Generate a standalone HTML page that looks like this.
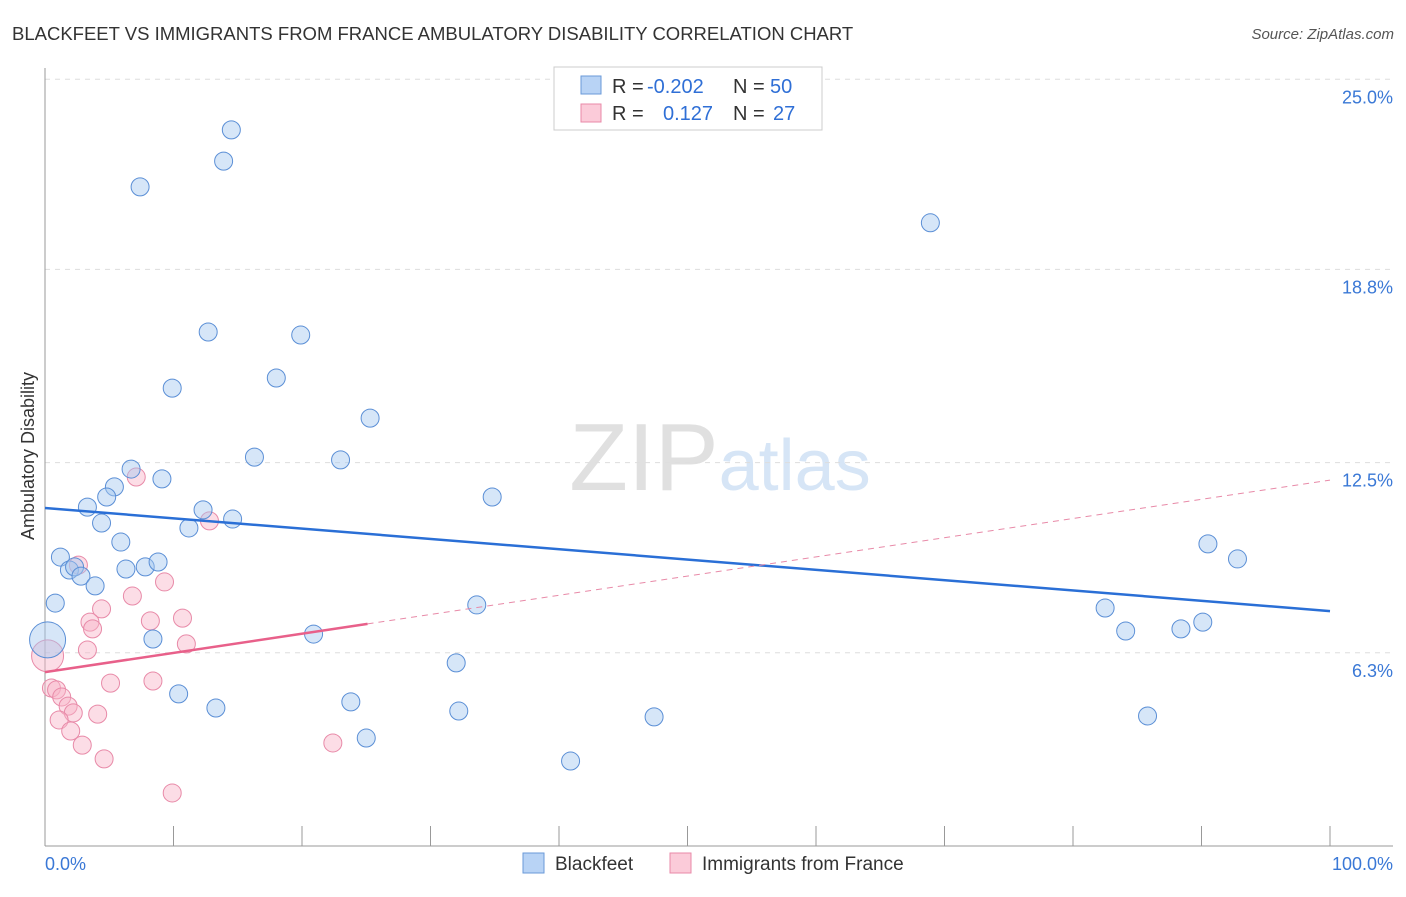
<!DOCTYPE html>
<html><head><meta charset="utf-8"><style>
body{margin:0;background:#fff;font-family:"Liberation Sans",sans-serif;}
svg text{font-family:"Liberation Sans",sans-serif;}
</style></head><body>
<svg id="chart" width="1406" height="892" viewBox="0 0 1406 892" xmlns="http://www.w3.org/2000/svg">
<text x="12" y="40" font-size="18.5" fill="#333">BLACKFEET VS IMMIGRANTS FROM FRANCE AMBULATORY DISABILITY CORRELATION CHART</text>
<text x="1394" y="39" font-size="15" fill="#555" font-style="italic" text-anchor="end">Source: ZipAtlas.com</text>
<text x="720" y="490" font-size="96" text-anchor="middle" font-family="Liberation Serif"><tspan fill="#e0e0e0">ZIP</tspan><tspan fill="#d6e5f6" font-family="Liberation Sans" font-size="72">atlas</tspan></text>
<text transform="translate(34,456) rotate(-90)" font-size="18" fill="#333" text-anchor="middle">Ambulatory Disability</text>
<g id="grid"></g><g id="axes"></g><g id="marks"></g>
<g>
<rect x="554" y="67" width="268" height="63" fill="#fff" stroke="#ccc"/>
<rect x="581" y="76" width="20" height="18" fill="#b8d3f5" stroke="#6a9ad8"/>
<text x="612" y="93" font-size="20" fill="#333">R =</text>
<text x="647" y="93" font-size="20" fill="#2f6fd6">-0.202</text>
<text x="733" y="93" font-size="20" fill="#333">N =</text>
<text x="770" y="93" font-size="20" fill="#2f6fd6">50</text>
<rect x="581" y="104" width="20" height="18" fill="#fbcbd9" stroke="#e88aa8"/>
<text x="612" y="120" font-size="20" fill="#333">R =</text>
<text x="663" y="120" font-size="20" fill="#2f6fd6">0.127</text>
<text x="733" y="120" font-size="20" fill="#333">N =</text>
<text x="773" y="120" font-size="20" fill="#2f6fd6">27</text>
</g>
<g>
<rect x="523" y="853" width="21" height="20" fill="#b8d3f5" stroke="#6a9ad8"/>
<text x="555" y="870" font-size="19" fill="#333">Blackfeet</text>
<rect x="670" y="853" width="21" height="20" fill="#fbcbd9" stroke="#e88aa8"/>
<text x="702" y="870" font-size="19" fill="#333">Immigrants from France</text>
</g>
</svg>
<script>
const blueX=[14.5,13.9,7.4,68.9,12.7,19.9,9.9,18.0,25.3,16.3,23.0,6.7,9.1,5.4,4.8,3.3,34.8,12.3,14.6,4.4,11.2,5.9,1.2,90.5,92.8,1.9,2.3,2.8,6.3,7.8,8.8,3.9,0.8,33.6,82.5,84.1,88.4,90.1,20.9,8.4,0.2,32.0,10.4,23.8,13.3,32.2,47.4,85.8,25.0,40.9];
const blueY=[23.35,22.33,21.49,20.32,16.76,16.66,14.93,15.26,13.95,12.68,12.59,12.29,11.97,11.71,11.38,11.05,11.38,10.96,10.66,10.53,10.37,9.91,9.42,9.85,9.36,9.0,9.1,8.8,9.03,9.1,9.26,8.48,7.92,7.86,7.76,7.01,7.08,7.3,6.91,6.75,6.72,5.97,4.96,4.7,4.5,4.4,4.21,4.24,3.52,2.77];
const pinkX=[7.1,12.8,2.6,9.3,4.4,6.8,3.5,3.7,8.2,10.7,11.0,3.3,0.2,5.1,8.4,0.5,0.9,1.3,1.8,2.2,1.1,4.1,2.0,2.9,4.6,22.4,9.9];
const pinkY=[12.03,10.6,9.16,8.61,7.73,8.15,7.3,7.08,7.34,7.43,6.59,6.39,6.2,5.31,5.38,5.15,5.09,4.86,4.56,4.34,4.11,4.3,3.75,3.29,2.84,3.36,1.73];
const blueTrend=[11.02,7.66];
const pinkTrend=[5.67,11.93];
const pinkSolidEnd=25.1;
const yTicks=[25.0,18.8,12.5,6.3];
const yTickLabels=["25.0%","18.8%","12.5%","6.3%"];
const xTicks=[0,10,20,30,40,50,60,70,80,90,100];
const NS="http://www.w3.org/2000/svg";
const X=v=>45+v*12.85;
const Y=v=>846-v*30.67;
function mk(tag,attrs,parent){const e=document.createElementNS(NS,tag);for(const k in attrs)e.setAttribute(k,attrs[k]);parent.appendChild(e);return e;}
const grid=document.getElementById('grid'),axes=document.getElementById('axes'),marks=document.getElementById('marks');
yTicks.forEach((t,i)=>{
  const l=mk('line',{x1:45,x2:1393,y1:Y(t),y2:Y(t),stroke:'#ddd','stroke-dasharray':'5,5'},grid);
  
  
  const tx=mk('text',{x:1393,y:Y(t)+24,'font-size':18,fill:'#3a78d6','text-anchor':'end'},grid);
  tx.textContent=yTickLabels[i];
  
  
});
let a=mk('line',{x1:45,x2:45,y1:68,y2:846,stroke:'#999'},axes);


a=mk('line',{x1:45,x2:1393,y1:846,y2:846,stroke:'#999'},axes);


xTicks.forEach(t=>{const l=mk('line',{x1:X(t),x2:X(t),y1:826,y2:846,stroke:'#999'},axes);
  
  });
let t0=mk('text',{x:45,y:870,'font-size':18,fill:'#3a78d6'},axes);t0.textContent='0.0%';


let t1=mk('text',{x:1393,y:870,'font-size':18,fill:'#3a78d6','text-anchor':'end'},axes);t1.textContent='100.0%';


pinkX.forEach((x,i)=>{const c=mk('circle',{cx:X(x),cy:Y(pinkY[i]),r:i==12?16:9,fill:'rgba(248,180,200,0.45)',stroke:'#e88aa8','stroke-width':1},marks);
  
  });
blueX.forEach((x,i)=>{const c=mk('circle',{cx:X(x),cy:Y(blueY[i]),r:i==40?18:9,fill:'rgba(164,200,240,0.45)',stroke:'#5b8fd6','stroke-width':1},marks);
  
  });
let tl=mk('line',{x1:X(0),y1:Y(blueTrend[0]),x2:X(100),y2:Y(blueTrend[1]),stroke:'#2a6fd6','stroke-width':2.5},marks);


const pAt=x=>pinkTrend[0]+(pinkTrend[1]-pinkTrend[0])*x/100;
tl=mk('line',{x1:X(0),y1:Y(pinkTrend[0]),x2:X(pinkSolidEnd),y2:Y(pAt(pinkSolidEnd)),stroke:'#e8608a','stroke-width':2.5},marks);


tl=mk('line',{x1:X(pinkSolidEnd),y1:Y(pAt(pinkSolidEnd)),x2:X(100),y2:Y(pinkTrend[1]),stroke:'#e88aa8','stroke-width':1,'stroke-dasharray':'6,5'},marks);


</script>
</body></html>
